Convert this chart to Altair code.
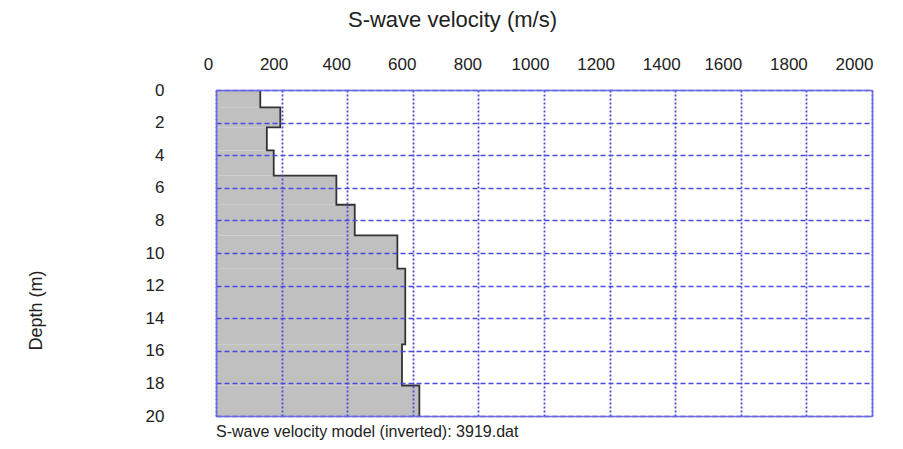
import altair as alt
import pandas as pd

# Layered S-wave velocity model
depth_top = [0, 1.06, 2.29, 3.71, 5.25, 7.04, 8.92, 10.96, 15.6, 18.13]
depth_bottom = [1.06, 2.29, 3.71, 5.25, 7.04, 8.92, 10.96, 15.6, 18.13, 20]
velocity = [135, 196, 155, 176, 367, 423, 553, 577, 567, 620]

x_ticks = list(range(0, 2001, 200))
y_ticks = list(range(0, 21, 2))

layers = pd.DataFrame({"top": depth_top, "bottom": depth_bottom, "v": velocity})
layers["v0"] = 0

rows = []
for i, (t, b, v) in enumerate(zip(depth_top, depth_bottom, velocity)):
    rows.append({"order": 2 * i, "v": v, "d": t})
    rows.append({"order": 2 * i + 1, "v": v, "d": b})
outline = pd.DataFrame(rows)

FONT = "Liberation Sans"
BLUE = "#4a4ade"
BORDER = "#6a6ae2"

xscale = alt.Scale(domain=[0, 2000], nice=False, zero=False)
yscale = alt.Scale(domain=[0, 20], reverse=True, nice=False, zero=False)

fill = alt.Chart(layers).mark_rect(color="#c0c0c0").encode(
    x=alt.X(
        "v0:Q",
        scale=xscale,
        axis=alt.Axis(
            orient="top",
            values=x_ticks,
            format="d",
            ticks=False,
            domain=True,
            domainColor=BORDER,
            domainWidth=1.5,
            grid=True,
            gridColor=BLUE,
            gridDash=[2, 2],
            gridWidth=1.8,
            labelFont=FONT,
            labelFontSize=17,
            labelColor="#222222",
            labelPadding=17,
            labelFlush=False,
            labelOverlap=False,
            labelOffset={
                "condition": [
                    {"test": "datum.value < 300", "value": -8},
                    {"test": "datum.value < 900", "value": -11},
                    {"test": "datum.value < 1500", "value": -14},
                ],
                "value": -18,
            },
            title="S-wave velocity (m/s)",
            titleFont=FONT,
            titleFontSize=22,
            titleFontWeight="normal",
            titleColor="#222222",
            titleX=236,
            titleY=-71,
            titleAlign="center",
            titleBaseline="middle",
            zindex=1,
        ),
    ),
    x2="v:Q",
    y=alt.Y(
        "top:Q",
        scale=yscale,
        axis=alt.Axis(
            orient="left",
            values=y_ticks,
            format="d",
            ticks=False,
            domain=True,
            domainColor=BORDER,
            domainWidth=1.5,
            grid=True,
            gridColor=BLUE,
            gridDash=[5, 3],
            gridWidth=1.3,
            labelFont=FONT,
            labelFontSize=17,
            labelColor="#222222",
            labelPadding=52,
            labelFlush=False,
            labelOverlap=False,
            title="Depth (m)",
            titleFont=FONT,
            titleFontSize=18,
            titleFontWeight="normal",
            titleColor="#222222",
            titleAngle=270,
            titleX=-180,
            titleY=220,
            titleAlign="center",
            titleBaseline="middle",
            zindex=1,
        ),
    ),
    y2="bottom:Q",
)

line = alt.Chart(outline).mark_line(color="#333333", strokeWidth=1.8).encode(
    x=alt.X(
        "v:Q",
        scale=xscale,
        axis=alt.Axis(
            orient="bottom",
            labels=False,
            ticks=False,
            grid=False,
            domain=True,
            domainColor=BORDER,
            domainWidth=1.5,
            title=None,
            zindex=1,
        ),
    ),
    y=alt.Y(
        "d:Q",
        scale=yscale,
        axis=alt.Axis(
            orient="right",
            labels=False,
            ticks=False,
            grid=False,
            domain=True,
            domainColor=BORDER,
            domainWidth=1.5,
            title=None,
            zindex=1,
        ),
    ),
    order="order:Q",
)

chart = (
    alt.layer(fill, line)
    .resolve_axis(x="independent", y="independent")
    .properties(
        width=656,
        height=326,
        autosize=alt.AutoSizeParams(type="none"),
        padding={"left": 208, "top": 82, "right": 20, "bottom": 25},
        title=alt.TitleParams(
            "S-wave velocity model (inverted): 3919.dat",
            orient="bottom",
            anchor="start",
            frame="group",
            font=FONT,
            fontSize=16,
            fontWeight="normal",
            color="#222222",
            offset=0,
        ),
    )
    .configure_view(stroke=None)
    .configure(background="white")
)

chart.save("out.html", embed_options={"renderer": "svg", "actions": False})
